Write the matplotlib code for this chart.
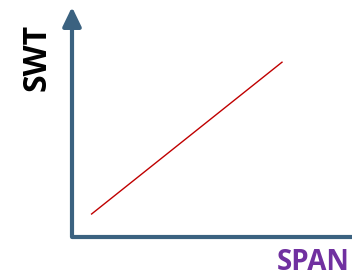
import matplotlib.pyplot as plt

# conceptual chart: SWT grows linearly with SPAN
span = [7, 75]
swt = [10, 76]

axis_color = '#3b6280'

fig = plt.figure(figsize=(3.52, 2.78), dpi=100)
ax = fig.add_axes([72/352, 41/278, 1 - 72/352, 1 - 41/278 - 7/278])
ax.set_xlim(0, 100)
ax.set_ylim(0, 100)
for s in ax.spines.values():
    s.set_visible(False)
ax.set_xticks([])
ax.set_yticks([])

ax.plot(span, swt, color='#c00000', lw=1.0)

# axes: x line to the edge, y line with arrow head
ax.plot([0, 1], [0, 0], transform=ax.transAxes, color=axis_color, lw=3, clip_on=False,
        solid_capstyle='butt')
ax.annotate('', xy=(0, 1), xytext=(0, 0), xycoords='axes fraction',
            arrowprops=dict(arrowstyle='-|>,head_width=0.28,head_length=0.58',
                            mutation_scale=20, lw=3, color=axis_color,
                            shrinkA=0, shrinkB=0))

fig.text(37/352, 1 - 57/278, 'SWT', rotation=90, ha='center', va='center',
         fontsize=23, fontweight='bold', family='Open Sans', color='black')
fig.text(350/352, 0.5/278, 'SPAN', ha='right', va='bottom',
         fontsize=20, fontweight='bold', family='Open Sans', color='#7030a0')

fig.savefig('out.png', dpi=100)
